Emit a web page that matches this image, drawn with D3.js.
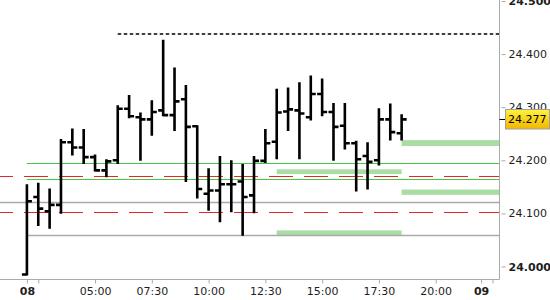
<!DOCTYPE html>
<html>
<head>
<meta charset="utf-8">
<script src="https://cdn.jsdelivr.net/npm/d3@7"></script>
<style>
  body { margin: 0; background: #fff; }
  svg { display: block; font-family: "DejaVu Sans", sans-serif; }
</style>
</head>
<body>
<script>
// 30 minute bars
var barTimes = ["02:00","02:30","03:00","03:30","04:00","04:30","05:00","05:30","06:00","06:30",
                "07:00","07:30","08:00","08:30","09:00","09:30","10:00","10:30","11:00","11:30",
                "12:00","12:30","13:00","13:30","14:00","14:30","15:00","15:30","16:00","16:30",
                "17:00","17:30","18:00","18:30"];
var opens  = [23.985,24.131,24.104,24.116,24.234,24.224,24.206,24.181,24.200,24.297,
              24.281,24.277,24.294,24.285,24.315,24.264,24.137,24.143,24.155,24.160,
              24.134,24.199,24.235,24.292,24.294,24.281,24.325,24.291,24.265,24.232,
              24.208,24.200,24.277,24.251];
var highs  = [24.153,24.156,24.145,24.238,24.258,24.257,24.209,24.200,24.302,24.321,
              24.288,24.311,24.425,24.373,24.340,24.264,24.183,24.206,24.198,24.191,
              24.206,24.257,24.333,24.335,24.345,24.358,24.352,24.306,24.306,24.235,
              24.232,24.296,24.305,24.285];
var lows   = [23.985,24.078,24.073,24.101,24.211,24.195,24.181,24.170,24.195,24.281,
              24.201,24.248,24.285,24.257,24.161,24.130,24.107,24.085,24.104,24.060,
              24.102,24.197,24.204,24.257,24.204,24.277,24.285,24.201,24.222,24.143,
              24.147,24.192,24.239,24.239];
var closes = [24.123,24.109,24.116,24.234,24.224,24.206,24.181,24.198,24.297,24.283,
              24.277,24.291,24.285,24.311,24.263,24.146,24.143,24.155,24.155,24.131,
              24.199,24.232,24.290,24.296,24.288,24.325,24.291,24.263,24.232,24.202,
              24.197,24.277,24.253,24.277];

var lastPrice = 24.277;

// reference levels
var redLevels   = [24.170, 24.103];          // dashed, whole width
var grayLevels  = [24.122];                  // whole width
var sessionGray = [24.059];                  // from session start
var greenLevels = [24.194, 24.165];          // from session start
var sessionStart = "02:00";
var highLevel = 24.437, highFrom = "06:00";  // black dashed

// zones [from, to, low, high], to = null -> right edge
var zoneFrom = ["13:00","13:00","18:30","18:30"];
var zoneTo   = ["18:30","18:30",null,null];
var zoneLow  = [24.174, 24.058, 24.227, 24.135];
var zoneHigh = [24.183, 24.068, 24.238, 24.145];

var yTicks = [24.0, 24.1, 24.2, 24.3, 24.4, 24.5];
var yBold  = [24.0, 24.5];
var xTickTimes  = ["02:00","02:30","05:00","07:30","10:00","12:30","15:00","17:30","20:00","22:00","22:30"];
var xTickLabels = ["08","","05:00","07:30","10:00","12:30","15:00","17:30","20:00","09",""];
var xTickBold   = ["08","09"];

var W = 550, H = 300;
var plotW = 499.5, plotH = 279.5;

function hours(t) { var p = t.split(":"); return +p[0] + p[1] / 60; }

var x = d3.scaleLinear().domain([0.815, 22.81]).range([0, plotW]);
var y = d3.scaleLinear().domain([23.9755, 24.5019]).range([plotH, 0]);

var svg = d3.select("body").append("svg")
    .attr("width", W)
    .attr("height", H);

var defs = svg.append("defs");
var grad = defs.append("linearGradient").attr("id", "priceGrad")
    .attr("x1", 0).attr("y1", 0).attr("x2", 0).attr("y2", 1);
grad.append("stop").attr("offset", "0%").attr("stop-color", "#fff23c");
grad.append("stop").attr("offset", "100%").attr("stop-color", "#f2b600");

var g = svg.append("g");

// zones
g.selectAll(".zone")
    .data(zoneLow)
    .enter().append("rect")
    .attr("class", "zone")
    .attr("x", function (d, i) { return x(hours(zoneFrom[i])); })
    .attr("width", function (d, i) {
        var x2 = zoneTo[i] ? x(hours(zoneTo[i])) : plotW;
        return x2 - x(hours(zoneFrom[i]));
    })
    .attr("y", function (d, i) { return y(zoneHigh[i]); })
    .attr("height", function (d, i) { return y(zoneLow[i]) - y(zoneHigh[i]); })
    .attr("fill", "#a9dda3");

function hline(val, x1, color, dash, w) {
    var yy = Math.round(y(val)) + 0.5;
    g.append("line")
        .attr("x1", x1).attr("x2", plotW)
        .attr("y1", yy).attr("y2", yy)
        .attr("stroke", color)
        .attr("stroke-width", w || 1)
        .attr("stroke-dasharray", dash || null)
        .attr("stroke-dashoffset", dash ? 11 : null);
}

grayLevels.forEach(function (v) { hline(v, 0, "#aaaaaa", null, 1.3); });
sessionGray.forEach(function (v) { hline(v, x(hours(sessionStart)), "#aaaaaa", null, 1.3); });
redLevels.forEach(function (v) { hline(v, 0, "#e3262a", "24,11", 1.2); });
greenLevels.forEach(function (v) { hline(v, x(hours(sessionStart)), "#44c844", null, 1.2); });

var hy = Math.round(y(highLevel));
g.append("line")
    .attr("x1", x(hours(highFrom))).attr("x2", plotW)
    .attr("y1", hy).attr("y2", hy)
    .attr("stroke", "#000")
    .attr("stroke-width", 1.6)
    .attr("stroke-dasharray", "3.5,2.5");

// OHLC bars
g.selectAll(".bar")
    .data(barTimes)
    .enter().append("path")
    .attr("class", "bar")
    .attr("fill", "none")
    .attr("stroke", "#000")
    .attr("stroke-width", 2.6)
    .attr("d", function (d, i) {
        var cx = x(hours(d));
        return "M" + cx + "," + (y(lows[i]) + 1) + "V" + (y(highs[i]) - 1) +
               "M" + (cx - 5) + "," + y(opens[i]) + "H" + cx +
               "M" + cx + "," + y(closes[i]) + "H" + (cx + 5);
    });

// x axis
var xAxis = d3.axisBottom(x)
    .tickValues(xTickTimes.map(hours))
    .tickSizeInner(4)
    .tickSizeOuter(0)
    .tickPadding(4)
    .tickFormat(function (d, i) { return xTickLabels[i]; });

var gx = svg.append("g")
    .attr("transform", "translate(0," + plotH + ")")
    .call(xAxis);
gx.select(".domain").attr("stroke", "#aaaaaa").attr("d", "M0,0H" + plotW);
gx.selectAll(".tick line").attr("stroke", "#aaaaaa");
gx.selectAll(".tick text")
    .attr("fill", "#1e1e1e")
    .style("font-size", "11px")
    .style("font-family", "'DejaVu Sans', sans-serif")
    .style("font-weight", function (d, i) { return xTickBold.indexOf(xTickLabels[i]) >= 0 ? "bold" : "normal"; });

// y axis on the right
var yAxis = d3.axisRight(y)
    .tickValues(yTicks)
    .tickSizeInner(6)
    .tickSizeOuter(0)
    .tickPadding(3)
    .tickFormat(d3.format(".3f"));

var gy = svg.append("g")
    .attr("transform", "translate(" + plotW + ",0)")
    .call(yAxis);
gy.select(".domain").attr("stroke", "#aaaaaa").attr("d", "M0,0V" + plotH);
gy.selectAll(".tick line").attr("stroke", "#aaaaaa").attr("x1", 2).attr("x2", 6);
gy.selectAll(".tick text")
    .attr("fill", "#1e1e1e")
    .style("font-size", "11px")
    .style("font-family", "'DejaVu Sans', sans-serif")
    .style("font-weight", function (d) { return yBold.indexOf(d) >= 0 ? "bold" : "normal"; });

// last price marker
var py = Math.round(y(lastPrice)) + 0.5;
svg.append("line")
    .attr("x1", plotW).attr("x2", plotW + 6)
    .attr("y1", py).attr("y2", py)
    .attr("stroke", "#000");
svg.append("rect")
    .attr("x", 505.5).attr("y", py - 10)
    .attr("width", 44).attr("height", 19.5)
    .attr("fill", "url(#priceGrad)")
    .attr("stroke", "#a0a0a0");
svg.append("text")
    .attr("x", 508).attr("y", py)
    .attr("dy", "0.35em")
    .attr("fill", "#000")
    .style("font-size", "11px")
    .text(d3.format(".3f")(lastPrice));
</script>
</body>
</html>
